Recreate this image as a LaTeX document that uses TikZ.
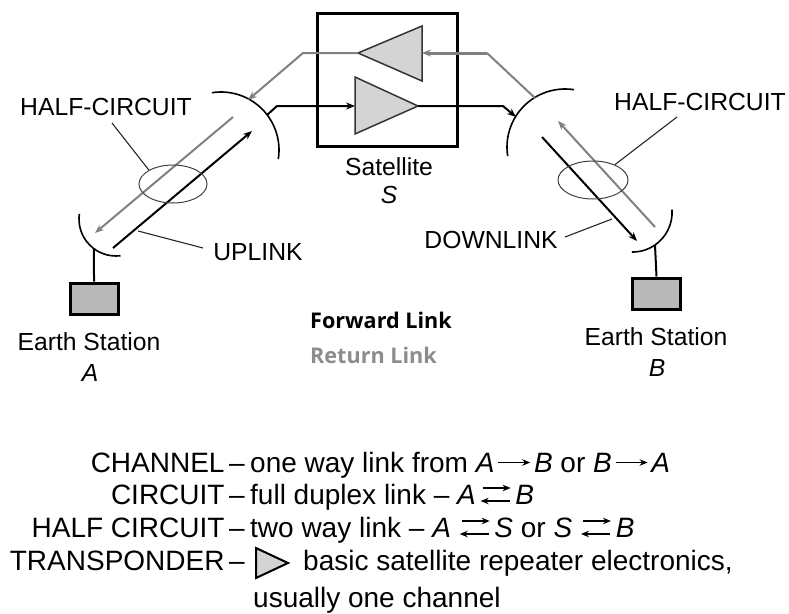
\documentclass[tikz,border=0pt]{standalone}
\usepackage{fontspec}
\setmainfont{Liberation Sans}
\newfontfamily\opensans{Open Sans}
\usetikzlibrary{arrows.meta,shapes.geometric}
\definecolor{linegray}{RGB}{128,128,128}
\definecolor{retgray}{RGB}{140,140,140}
\definecolor{ampgray}{RGB}{212,212,212}
\definecolor{stgray}{RGB}{185,185,185}
\newcommand\legarrow{\tikz[x=1pt,y=1pt,baseline=0pt]\draw[line width=1.5pt,-{Stealth[length=8pt,width=6.5pt]}] (0,9.5) -- (32,9.5);}
\newcommand\legpair{\tikz[x=1pt,y=1pt,baseline=0pt]{\draw[line width=1.5pt,-{Stealth[length=8pt,width=6.5pt]}] (2,16) -- (30,16);\draw[line width=1.5pt,-{Stealth[length=8pt,width=6.5pt]}] (29,3) -- (0,3);}}
\begin{document}
\begin{tikzpicture}[x=1pt,y=-1pt,
  lbl/.style={font=\fontsize{24.7}{28}\selectfont, inner sep=0pt},
  leg/.style={font=\fontsize{28}{31}\selectfont, inner sep=0pt},
  fwd/.style={line width=2pt, draw=black},
  ret/.style={line width=2pt, draw=linegray},
  tip/.style={-{Stealth[length=9pt,width=7pt]}},
  dish/.style={line width=1.6pt},
  leader/.style={line width=1.1pt, draw=black!85},
  ring/.style={draw=black!75, line width=1pt, ellipse, inner sep=0pt, minimum width=68pt, minimum height=38pt},
  station/.style={draw, line width=3pt, fill=stgray, minimum width=48pt, minimum height=31pt, inner sep=0pt},
  amp/.style={draw=black!80, line width=1.5pt, fill=ampgray},
]
\useasboundingbox (0,0) rectangle (789,613);

% satellite box
\node[draw, line width=3pt, minimum width=140pt, minimum height=133pt, inner sep=0pt] (sat) at (387,79.5) {};
% transponders
\draw[amp] (355,77) -- (418,106) -- (355,134) -- cycle;
\draw[amp] (422,26) -- (358,53) -- (422,81) -- cycle;
\coordinate (fB) at (355,106);
\coordinate (fT) at (418,106);
\coordinate (rB) at (422,53);
\coordinate (rT) at (358,53);

% dishes
\draw[dish] (221,150) ++(-99:58) arc[start angle=-99, end angle=9, radius=58];
\draw[dish] (565,147) ++(-81:58) arc[start angle=-81, end angle=-189, radius=58];
\draw[dish] (116,219) ++(83:37) arc[start angle=83, end angle=188, radius=37];
\draw[dish] (632.5,212.4) ++(-4:39.6) arc[start angle=-4, end angle=91, radius=39.6];
\path (116,219) ++(126.5:37) coordinate (stA);
\path (632.5,212.4) ++(55.4:39.6) coordinate (stB);

% earth stations
\node[station] (esA) at (94,298.5) {};
\node[station] (esB) at (656.5,293.5) {};
\draw[line width=2pt] (stA) -- (esA.north);
\draw[line width=2pt] (stB) -- (esB.north);

% link points
\coordinate (dLs) at (267,115);
\coordinate (bL1) at (277,106);
\coordinate (bR1) at (503,106);
\coordinate (dRs) at (516,117);
\coordinate (dRr) at (535,98);
\coordinate (bR2) at (487,53);
\coordinate (bL2) at (303,53);
\coordinate (dLr) at (248,100);
\coordinate (upS) at (113,248);
\coordinate (upE) at (252,131);
\coordinate (rAs) at (233,117);
\coordinate (rAe) at (95,233);
\coordinate (dnS) at (542,137);
\coordinate (dnE) at (637,241);
\coordinate (rBs) at (655,227);
\coordinate (rBe) at (558,121);

% forward link
\draw[fwd,tip] (dLs) -- (bL1) -- (fB);
\draw[fwd,tip] (fT) -- (bR1) -- (dRs);
\draw[fwd,tip] (upS) -- (upE);
\draw[fwd,tip] (dnS) -- (dnE);
% return link
\draw[ret] (dRr) -- (bR2);
\draw[ret,line width=3pt,tip] (bR2) -- (rB);
\draw[ret,tip] (rT) -- (bL2) -- (dLr);
\draw[ret,tip] (rAs) -- (rAe);
\draw[ret,tip] (rBs) -- (rBe);

% half-circuit rings
\node[ring] (ringL) at (173,184) {};
\node[ring, minimum width=70pt] (ringR) at (593,180) {};

% labels
\node[lbl, anchor=base] (hcL) at (106,115) {HALF-CIRCUIT};
\node[lbl, anchor=base] (hcR) at (700,110) {HALF-CIRCUIT};
\node[lbl, anchor=base] (upl) at (258,260) {UPLINK};
\node[lbl, anchor=base] (dnl) at (491,248) {DOWNLINK};
\node[lbl, anchor=base] (satl) at (389,175) {Satellite};
\node[lbl, anchor=base] (sats) at (389,203) {\textit{S}};
\node[lbl, anchor=base] (esAl) at (89,350) {Earth Station};
\node[lbl, anchor=base] (esAn) at (90,381) {\textit{A}};
\node[lbl, anchor=base] (esBl) at (656,345) {Earth Station};
\node[lbl, anchor=base] (esBn) at (657,376) {\textit{B}};

\coordinate (hcLl) at (112,123);
\coordinate (hcRl) at (677,117);
\coordinate (upl1) at (138,231);
\coordinate (upl2) at (203,248);
\coordinate (dnl1) at (565,237);
\coordinate (dnl2) at (612,219);
\draw[leader] (hcLl) -- (ringL.150);
\draw[leader] (hcRl) -- (ringR.35);
\draw[leader] (upl1) -- (upl2);
\draw[leader] (dnl1) -- (dnl2);

% link legend
\node[inner sep=0pt, anchor=base west, font=\opensans\bfseries\fontsize{21.6}{24}\selectfont] (fl) at (310,328) {Forward Link};
\node[inner sep=0pt, anchor=base west, text=retgray, font=\opensans\bfseries\fontsize{21.6}{24}\selectfont] (rl) at (310,363) {Return Link};

% definitions
\node[leg, anchor=base east] (d1) at (245,472) {CHANNEL\,–};
\node[leg, anchor=base west] (t1) at (250,472) {one way link from \textit{A}\kern3pt\legarrow\kern3pt\textit{B} or \textit{B}\kern3pt\legarrow\kern3pt\textit{A}};
\node[leg, anchor=base east] (d2) at (245,504) {CIRCUIT\,–};
\node[leg, anchor=base west] (t2) at (250,504) {full duplex link – \textit{A}\kern4pt\legpair\kern4pt\textit{B}};
\node[leg, anchor=base east] (d3) at (245,537) {HALF CIRCUIT\,–};
\node[leg, anchor=base west] (t3) at (250,537) {two way link – \textit{A}\kern8pt\legpair\kern4pt\textit{S} or \textit{S}\kern8pt\legpair\kern4pt\textit{B}};
\node[leg, anchor=base east] (d4) at (245,570) {TRANSPONDER\,–};
\draw[line width=2pt, fill=ampgray] (256,548) -- (288,563) -- (256,578) -- cycle;
\node[leg, anchor=base west] (t4) at (303,570) {basic satellite repeater electronics,};
\node[leg, anchor=base west] (t5) at (253,607) {usually one channel};
\end{tikzpicture}
\end{document}
